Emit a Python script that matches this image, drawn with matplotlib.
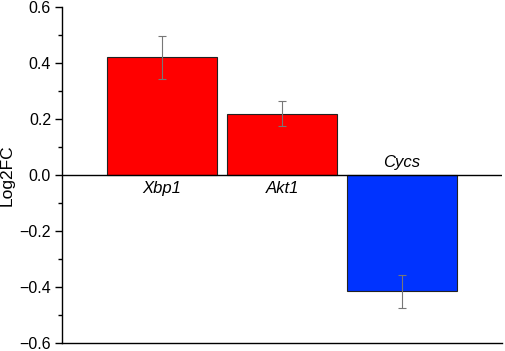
import matplotlib.pyplot as plt
from matplotlib.ticker import MultipleLocator

genes = ['Xbp1', 'Akt1', 'Cycs']
log2fc = [0.42, 0.22, -0.415]
errors = [0.078, 0.045, 0.059]
colors = ['#ff0000', '#ff0000', '#0033ff']


def main():
    plt.rcParams['font.family'] = ['Arial', 'Liberation Sans', 'DejaVu Sans']
    fig = plt.figure(figsize=(5.05, 3.51), dpi=100)
    ax = fig.add_axes([0.123, 0.022, 0.871, 0.958])

    x = [1, 2, 3]
    ax.bar(x, log2fc, width=0.917, color=colors, edgecolor='#222222', linewidth=0.8, zorder=2)
    ax.errorbar(x, log2fc, yerr=errors, fmt='none', ecolor='#777777',
                elinewidth=0.8, capsize=3, capthick=0.8, zorder=3)
    ax.axhline(0, color='black', linewidth=1.0, zorder=4)

    # gene names sit on the other side of the zero line
    for xi, name, v in zip(x, genes, log2fc):
        if v >= 0:
            ax.text(xi, -0.02, name, ha='center', va='top', fontsize=12, style='italic')
        else:
            ax.text(xi, 0.02, name, ha='center', va='bottom', fontsize=12, style='italic')

    ax.set_xlim(0.167, 3.833)
    ax.set_ylim(-0.6, 0.6)
    ax.yaxis.set_minor_locator(MultipleLocator(0.1))
    ax.set_yticks([-0.6, -0.4, -0.2, 0.0, 0.2, 0.4, 0.6])
    ax.set_yticklabels(['\u22120.6', '\u22120.4', '\u22120.2', '0.0', '0.2', '0.4', '0.6'])
    ax.tick_params(axis='y', which='major', length=5, width=1, labelsize=11.5, pad=3)
    ax.tick_params(axis='y', which='minor', length=3, width=1)
    ax.set_xticks([])
    ax.set_ylabel('Log2FC', fontsize=12.5)
    ax.yaxis.set_label_coords(-0.108, 0.5)

    ax.spines['top'].set_visible(False)
    ax.spines['right'].set_visible(False)
    ax.spines['left'].set_linewidth(1)
    ax.spines['bottom'].set_linewidth(1)

    fig.savefig('out.png', dpi=100)


if __name__ == '__main__':
    main()
